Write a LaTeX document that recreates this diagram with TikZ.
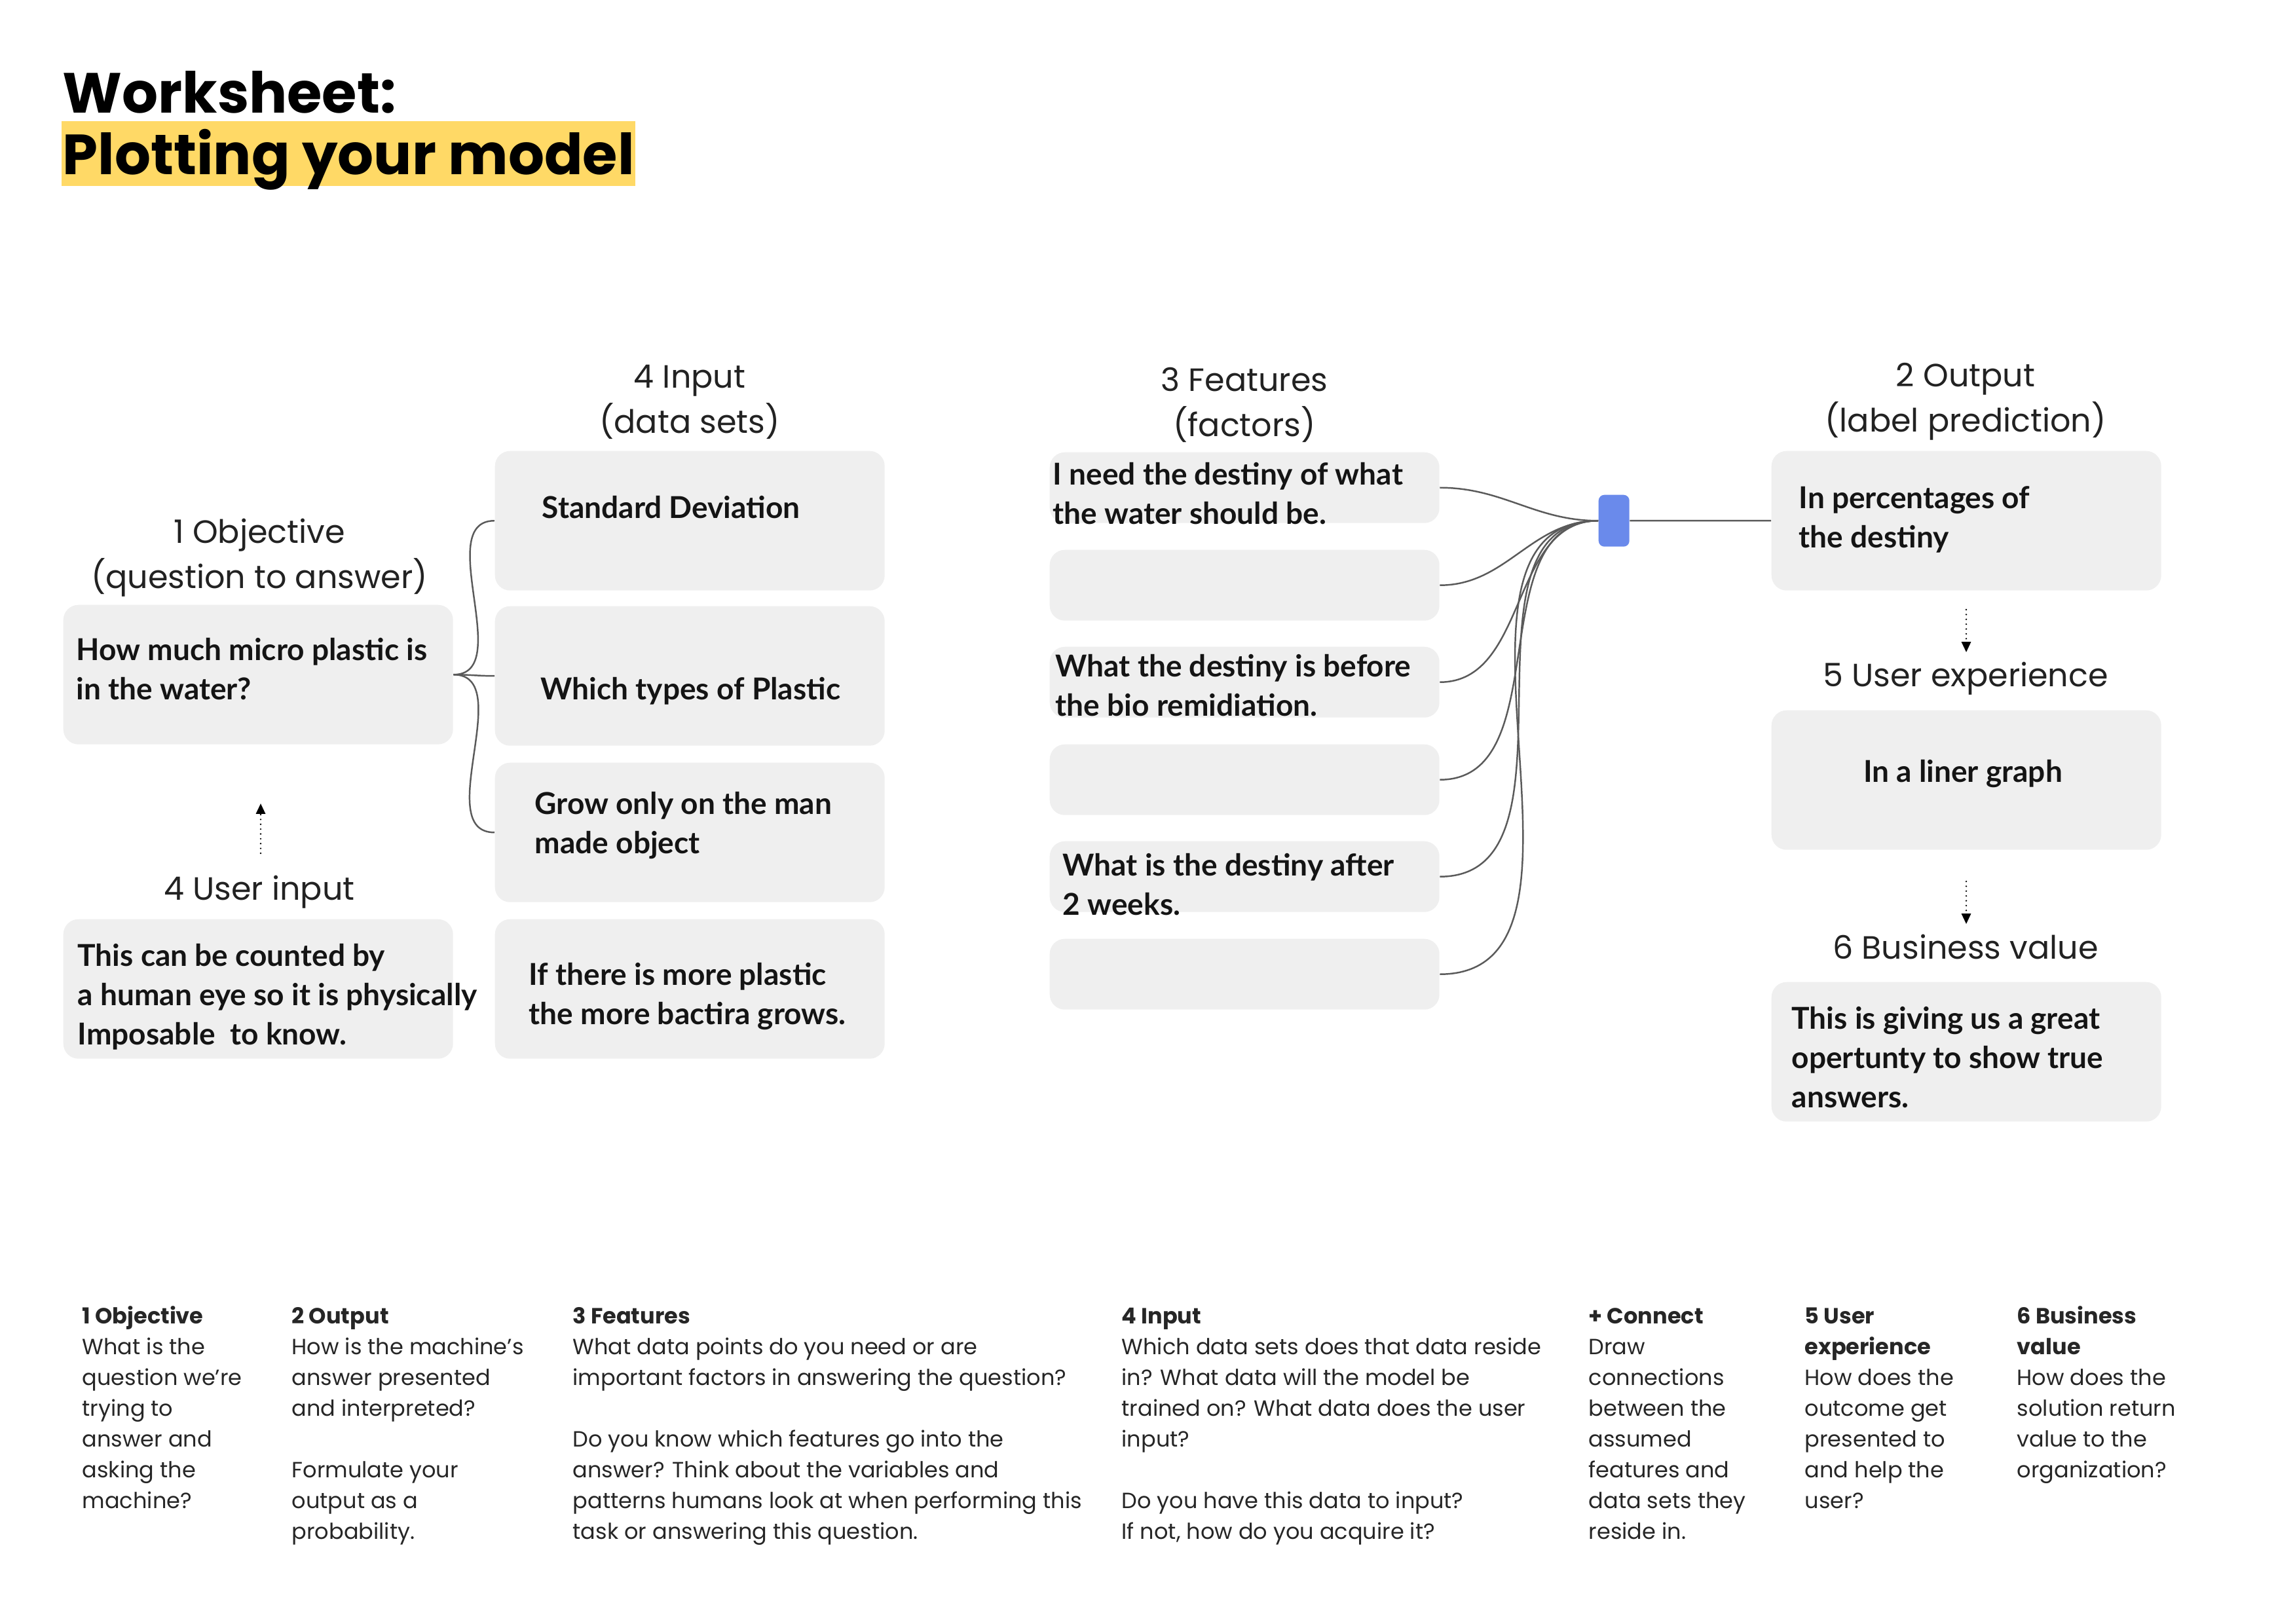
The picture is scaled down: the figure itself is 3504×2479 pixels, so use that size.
\documentclass[tikz,border=0pt]{standalone}
\usepackage{fontspec}
\setmainfont{Poppins}
\newfontfamily\boxfont{Lato}
\newfontfamily\headfont{Poppins}
\usetikzlibrary{arrows.meta}
\definecolor{boxgray}{HTML}{EFEFEF}
\definecolor{hl}{HTML}{FFD966}
\definecolor{blu}{HTML}{6A8AEB}
\definecolor{linegray}{HTML}{5A5A5A}
\definecolor{txt}{HTML}{141414}
\definecolor{headtxt}{HTML}{222222}
\definecolor{notetxt}{HTML}{262626}
\begin{document}
\begin{tikzpicture}[x=0.1mm,y=-0.1mm,
  card/.style={fill=boxgray, draw=none, rounded corners=2.3mm, inner sep=0pt, anchor=north west, minimum width=59.5mm},
  bigcard/.style={card, minimum height=21.3mm},
  slimcard/.style={card, minimum height=10.8mm},
  cardtext/.style={anchor=base west, inner sep=0pt, text=txt, font=\boxfont\bfseries\fontsize{13.1}{17.07}\selectfont},
  colhead/.style={anchor=base, inner sep=0pt, text=headtxt, font=\headfont\fontsize{14}{19.6}\selectfont},
  notes/.style={anchor=base west, inner sep=0pt, text=notetxt, font=\fontsize{9.55}{13.4}\selectfont},
  conn/.style={draw=linegray, line width=0.7pt},
  hint/.style={draw=black, line width=0.75pt, line cap=round, dash pattern=on 0pt off 2.1pt, -{Triangle[length=4.5pt,width=4pt]}},
]
\useasboundingbox (0,0) rectangle (3504,2479);

% title
\node[anchor=base west, inner sep=0pt, font=\bfseries\fontsize{24.6}{30}\selectfont] (title1) at (95,172) {Worksheet:};
\fill[hl] (94,185) rectangle (970,284);
\node[anchor=base west, inner sep=0pt, font=\bfseries\fontsize{24.6}{30}\selectfont] (title2) at (95,266) {Plotting your model};

% column headings
\node[colhead] (hobj1) at (396,829) {1 Objective};
\node[colhead] (hobj2) at (396,898) {(question to answer)};
\node[colhead] (hui) at (396,1374) {4 User input};
\node[colhead] (hin1) at (1053,592) {4 Input};
\node[colhead] (hin2) at (1053,661) {(data sets)};
\node[colhead] (hf1) at (1900,597) {3 Features};
\node[colhead] (hf2) at (1900,666) {(factors)};
\node[colhead] (ho1) at (3001,590) {2 Output};
\node[colhead] (ho2) at (3001,659) {(label prediction)};
\node[colhead] (hux) at (3001,1048) {5 User experience};
\node[colhead] (hbv) at (3001,1464) {6 Business value};

% cards
\node[bigcard] (obj) at (96,923) {};
\node[bigcard] (ui) at (96,1403) {};
\node[bigcard] (in1) at (755,688) {};
\node[bigcard] (in2) at (755,925) {};
\node[bigcard] (in3) at (755,1164) {};
\node[bigcard] (in4) at (755,1403) {};
\node[slimcard] (f1) at (1602,690) {};
\node[slimcard] (f2) at (1602,839) {};
\node[slimcard] (f3) at (1602,987) {};
\node[slimcard] (f4) at (1602,1136) {};
\node[slimcard] (f5) at (1602,1284) {};
\node[slimcard] (f6) at (1602,1433) {};
\node[bigcard] (o1) at (2704,688) {};
\node[bigcard] (o2) at (2704,1084) {};
\node[bigcard] (o3) at (2704,1499) {};
\node[fill=blu, draw=none, rounded corners=2.5pt, inner sep=0pt, minimum width=4.7mm, minimum height=7.9mm, anchor=north west] (hub) at (2440,755) {};

% card texts
\node[cardtext] (tobj) at (116,1008) {\vtop{\hbox{How much micro plastic is}\hbox{in the water?}}};
\node[cardtext] (tui) at (118,1475) {\vtop{\hbox{This can be counted by}\hbox{a human eye so it is physically}\hbox{Imposable\ \ to know.}}};
\node[cardtext] (tin1) at (827,791) {Standard Deviation};
\node[cardtext] (tin2) at (825,1068) {Which types of Plastic};
\node[cardtext] (tin3) at (816,1243) {\vtop{\hbox{Grow only on the man}\hbox{made object}}};
\node[cardtext] (tin4) at (807,1504) {\vtop{\hbox{If there is more plastic}\hbox{the more bactira grows.}}};
\node[cardtext] (tf1) at (1607,740) {\vtop{\hbox{I need the destiny of what}\hbox{the water should be.}}};
\node[cardtext] (tf3) at (1611,1033) {\vtop{\hbox{What the destiny is before}\hbox{the bio remidiation.}}};
\node[cardtext] (tf5) at (1622,1337) {\vtop{\hbox{What is the destiny after}\hbox{2 weeks.}}};
\node[cardtext] (to1) at (2746,776) {\vtop{\hbox{In percentages of}\hbox{the destiny}}};
\node[cardtext, anchor=base] (to2) at (2997,1194) {In a liner graph};
\node[cardtext] (to3) at (2735,1571) {\vtop{\hbox{This is giving us a great}\hbox{opertunty to show true}\hbox{answers.}}};

% connectors
\draw[conn] (obj.east) to[out=0,in=180] (in1.west);
\draw[conn] (obj.east) to[out=0,in=180] (in2.west);
\draw[conn] (obj.east) to[out=0,in=180] (in3.west);
\foreach \f in {f1,f2,f3,f4,f5,f6}
  \draw[conn] (\f.east) to[out=0,in=180] (hub.west);
\draw[conn] (hub.east) -- (o1.west);

% dotted hints
\coordinate (ua) at (398,1303);
\coordinate (ub) at (398,1227);
\draw[hint] (ua) -- (ub);
\coordinate (oa) at (3002,931);
\coordinate (ob) at (3002,996);
\draw[hint] (oa) -- (ob);
\coordinate (pa) at (3002,1346);
\coordinate (pb) at (3002,1411);
\draw[hint] (pa) -- (pb);

% notes
\node[notes] (n1) at (125,2021) {\vtop{\hbox{\bfseries 1 Objective}\hbox{What is the}\hbox{question we’re}\hbox{trying to}\hbox{answer and}\hbox{asking the}\hbox{machine?}}};
\node[notes] (n2) at (445,2021) {\vtop{\hbox{\bfseries 2 Output}\hbox{How is the machine’s}\hbox{answer presented}\hbox{and interpreted?}\hbox{\strut}\hbox{Formulate your}\hbox{output as a}\hbox{probability.}}};
\node[notes] (n3) at (874,2021) {\vtop{\hbox{\bfseries 3 Features}\hbox{What data points do you need or are}\hbox{important factors in answering the question?}\hbox{\strut}\hbox{Do you know which features go into the}\hbox{answer? Think about the variables and}\hbox{patterns humans look at when performing this}\hbox{task or answering this question.}}};
\node[notes] (n4) at (1712,2021) {\vtop{\hbox{\bfseries 4 Input}\hbox{Which data sets does that data reside}\hbox{in? What data will the model be}\hbox{trained on? What data does the user}\hbox{input?}\hbox{\strut}\hbox{Do you have this data to input?}\hbox{If not, how do you acquire it?}}};
\node[notes] (n5) at (2425,2021) {\vtop{\hbox{\bfseries + Connect}\hbox{Draw}\hbox{connections}\hbox{between the}\hbox{assumed}\hbox{features and}\hbox{data sets they}\hbox{reside in.}}};
\node[notes] (n6) at (2755,2021) {\vtop{\hbox{\bfseries 5 User}\hbox{\bfseries experience}\hbox{How does the}\hbox{outcome get}\hbox{presented to}\hbox{and help the}\hbox{user?}}};
\node[notes] (n7) at (3079,2021) {\vtop{\hbox{\bfseries 6 Business}\hbox{\bfseries value}\hbox{How does the}\hbox{solution return}\hbox{value to the}\hbox{organization?}}};
\end{tikzpicture}
\end{document}
